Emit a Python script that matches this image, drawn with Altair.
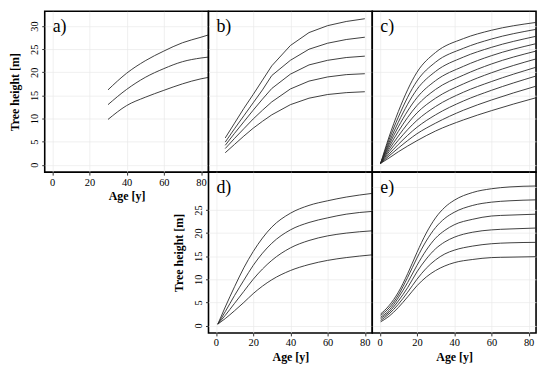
import altair as alt
import pandas as pd

# ---------------- data ----------------
AGES_A = [30, 40, 50, 60, 70, 80, 84]
A_CURVES = [
    [16.2, 19.8, 22.5, 24.6, 26.4, 27.6, 28.1],
    [13.0, 16.3, 18.9, 20.8, 22.3, 23.1, 23.3],
    [9.8, 12.8, 14.6, 16.1, 17.5, 18.6, 18.9],
]

AGES_B = [5, 10, 15, 20, 25, 30, 40, 50, 60, 70, 80]
B_CURVES = [
    [5.8, 9.0, 12.2, 15.2, 18.3, 21.4, 25.8, 28.6, 30.1, 31.0, 31.6],
    [4.9, 7.8, 10.6, 13.4, 16.2, 19.3, 22.6, 25.0, 26.3, 27.1, 27.6],
    [4.2, 6.8, 9.3, 11.8, 14.2, 16.5, 19.6, 21.6, 22.6, 23.2, 23.5],
    [3.5, 5.7, 7.8, 9.9, 11.8, 13.6, 16.4, 18.1, 19.0, 19.5, 19.7],
    [2.6, 4.4, 6.2, 7.9, 9.4, 10.8, 13.0, 14.4, 15.2, 15.6, 15.8],
]

AGES_C = [0.5, 5, 10, 20, 30, 45, 60, 84]
C_CURVES = [
    [0.3, 6.0, 11.5, 20.0, 24.3, 27.3, 29.1, 30.8],
    [0.3, 5.4, 10.3, 18.1, 22.2, 25.2, 27.2, 29.3],
    [0.3, 4.8, 9.2, 16.3, 20.2, 23.3, 25.4, 27.8],
    [0.3, 4.3, 8.2, 14.5, 18.2, 21.3, 23.6, 26.2],
    [0.3, 3.8, 7.2, 12.8, 16.3, 19.4, 21.8, 24.6],
    [0.3, 3.3, 6.2, 11.2, 14.4, 17.5, 19.9, 22.9],
    [0.3, 2.8, 5.3, 9.6, 12.6, 15.7, 18.0, 21.1],
    [0.3, 2.3, 4.4, 8.1, 10.8, 13.8, 16.1, 19.2],
    [0.3, 1.9, 3.6, 6.7, 9.0, 11.8, 14.0, 17.0],
    [0.3, 1.45, 2.8, 5.2, 7.3, 9.7, 11.7, 14.5],
]

AGES_D = [1, 5, 10, 15, 20, 30, 40, 50, 60, 70, 84]
D_CURVES = [
    [0.3, 4.0, 8.4, 12.5, 16.0, 21.3, 24.3, 26.0, 27.0, 27.8, 28.6],
    [0.3, 3.0, 6.5, 9.8, 13.0, 17.8, 20.7, 22.3, 23.3, 24.1, 24.7],
    [0.3, 2.2, 4.8, 7.4, 10.0, 14.1, 16.8, 18.4, 19.4, 20.0, 20.5],
    [0.3, 1.5, 3.2, 5.0, 6.9, 9.9, 11.9, 13.2, 14.1, 14.7, 15.3],
]

AGES_E = [0.5, 5, 10, 15, 20, 25, 30, 35, 40, 50, 60, 70, 84]
E_CURVES = [
    [2.5, 4.3, 7.2, 11.2, 15.8, 20.0, 23.3, 25.6, 27.1, 28.8, 29.6, 30.0, 30.2],
    [2.2, 3.8, 6.6, 10.4, 14.6, 18.3, 21.2, 23.2, 24.5, 26.0, 26.7, 27.0, 27.2],
    [1.8, 3.3, 6.0, 9.3, 13.0, 16.3, 18.9, 20.6, 21.8, 23.0, 23.7, 23.9, 24.1],
    [1.5, 2.9, 5.3, 8.2, 11.6, 14.4, 16.6, 18.1, 19.1, 20.2, 20.7, 20.9, 21.1],
    [1.1, 2.5, 4.6, 7.2, 10.0, 12.4, 14.2, 15.5, 16.3, 17.2, 17.7, 17.9, 18.0],
    [0.8, 2.0, 3.9, 6.2, 8.6, 10.5, 11.9, 12.9, 13.6, 14.3, 14.7, 14.8, 14.9],
]

PANEL_LABELS = ["a)", "b)", "c)", "d)", "e)"]
X_TICKS = [0, 20, 40, 60, 80]
Y_TICKS = [0, 5, 10, 15, 20, 25, 30]
Y_TICKS_D = [0, 5, 10, 15, 20, 25]
X_TITLE = "Age [y]"
Y_TITLE = "Tree height [m]"

# ---------------- styling ----------------
FONT = "Liberation Serif"
W, H = 165, 162
X_DOM = [-4, 84]
Y_DOM = [-1.6, 33.2]


def to_df(ages, curves):
    rows = []
    for i, c in enumerate(curves):
        for a, h in zip(ages, c):
            rows.append({"age": a, "height": h, "curve": i})
    return pd.DataFrame(rows)


def panel(ages, curves, label, show_x, show_y, y_ticks, interp):
    df = to_df(ages, curves)
    xax = dict(values=X_TICKS, grid=True, gridColor="#e9e9e9", gridWidth=0.7,
               domain=False, labels=show_x, ticks=show_x, tickSize=3,
               tickColor="#333333", labelFont=FONT, labelFontSize=10.5,
               labelColor="black", labelPadding=2, titleFont=FONT,
               titleFontSize=12, titleFontWeight="bold", titleColor="black",
               titlePadding=3)
    yax = dict(values=y_ticks, grid=True, gridColor="#e9e9e9", gridWidth=0.7,
               domain=False, labels=show_y, ticks=show_y, tickSize=3,
               tickColor="#333333", labelFont=FONT, labelFontSize=10.5,
               labelColor="black", labelAngle=270, labelAlign="center",
               labelBaseline="bottom", labelPadding=2, titleFont=FONT,
               titleFontSize=12, titleFontWeight="bold", titleColor="black",
               titlePadding=8)
    xt = X_TITLE if show_x else ""
    yt = Y_TITLE if show_y else ""
    lines = alt.Chart(df).mark_line(
        color="#2a2a2a", strokeWidth=0.9, interpolate=interp, clip=True
    ).encode(
        x=alt.X("age:Q", scale=alt.Scale(domain=X_DOM, nice=False, zero=False),
                axis=alt.Axis(**xax), title=xt),
        y=alt.Y("height:Q", scale=alt.Scale(domain=Y_DOM, nice=False, zero=False),
                axis=alt.Axis(**yax), title=yt),
        detail="curve:N",
    )
    txt = alt.Chart(pd.DataFrame({"t": [label]})).mark_text(
        font=FONT, fontSize=18, align="left", baseline="alphabetic", color="black"
    ).encode(x=alt.value(8), y=alt.value(21), text="t:N")
    return alt.layer(lines, txt).properties(
        width=W, height=H,
        view=alt.ViewBackground(stroke="black", strokeWidth=1.6, fill="white"),
    )


blank = alt.Chart(pd.DataFrame({"v": [0]})).mark_point(opacity=0).encode(
    x=alt.X("v:Q", axis=None), y=alt.Y("v:Q", axis=None)
).properties(width=W, height=H,
             view=alt.ViewBackground(strokeOpacity=0, fillOpacity=0))

pa = panel(AGES_A, A_CURVES, PANEL_LABELS[0], True, True, Y_TICKS, "monotone")
pb = panel(AGES_B, B_CURVES, PANEL_LABELS[1], False, False, Y_TICKS, "linear")
pc = panel(AGES_C, C_CURVES, PANEL_LABELS[2], False, False, Y_TICKS, "monotone")
pd_ = panel(AGES_D, D_CURVES, PANEL_LABELS[3], True, True, Y_TICKS_D, "monotone")
pe = panel(AGES_E, E_CURVES, PANEL_LABELS[4], True, False, Y_TICKS, "monotone")

chart = alt.concat(pa, pb, pc, blank, pd_, pe, columns=3, spacing=0,
                   bounds="flush").properties(
    padding={"left": 0, "top": 1, "right": 5, "bottom": 5},
    background="white",
)

chart.save("out.html", embed_options={"renderer": "svg", "actions": False})
